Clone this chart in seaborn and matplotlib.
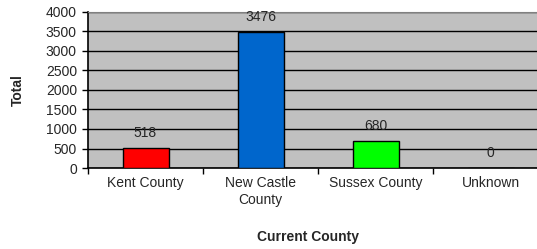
import pandas as pd
import seaborn as sns
import matplotlib.pyplot as plt

# data
counties = ['Kent County', 'New Castle\nCounty', 'Sussex County', 'Unknown']
totals = [518, 3476, 680, 0]
colors = ['#FF0000', '#0066CC', '#00FF00', '#808080']

df = pd.DataFrame({'County': counties, 'Total': totals})

sns.set_style('white')
plt.rcParams['font.family'] = ['Liberation Sans', 'DejaVu Sans']

fig = plt.figure(figsize=(5.37, 2.49), dpi=100)
# plot area runs past the right edge of the picture, like the original crop
ax = fig.add_axes([88 / 537, 81 / 249, 460 / 537, 156 / 249])
ax.set_facecolor('#C0C0C0')

sns.barplot(data=df, x='County', y='Total', hue='County', palette=colors,
            saturation=1, width=0.4, edgecolor='black', linewidth=1,
            legend=False, ax=ax, zorder=3)

ax.set_ylim(0, 4000)
ax.set_xlim(-0.5, len(counties) - 0.5)
ax.set_yticks(range(0, 4001, 500))
ax.yaxis.grid(True, color='black', linewidth=1, zorder=0)
ax.set_axisbelow(True)

# tick marks between categories
ax.set_xticks([i + 0.5 for i in range(-1, len(counties))], minor=True)
ax.tick_params(axis='x', which='major', length=0, pad=6, labelsize=10)
ax.tick_params(axis='x', which='minor', length=4, width=1, color='black', direction='out')
ax.tick_params(axis='y', length=4, width=1, color='black', direction='out', labelsize=10, pad=4)
ax.xaxis.set_ticks_position('bottom')
ax.yaxis.set_ticks_position('left')

for side in ['left', 'bottom']:
    ax.spines[side].set_color('black')
    ax.spines[side].set_linewidth(1.2)
ax.spines['top'].set_color('#808080')
ax.spines['right'].set_visible(False)

for i, v in enumerate(totals):
    ax.annotate(str(v), (i, v), xytext=(0, 11), textcoords='offset points',
                ha='center', va='center', fontsize=10)

ax.set_xlabel('')
ax.set_ylabel('')
fig.text(18 / 537, 1 - 90 / 249, 'Total', rotation=90, ha='center', va='center',
         fontsize=10, fontweight='bold')
fig.text(308 / 537, 1 - 237 / 249, 'Current County', ha='center', va='center',
         fontsize=10, fontweight='bold')

fig.savefig('out.png', dpi=100)
